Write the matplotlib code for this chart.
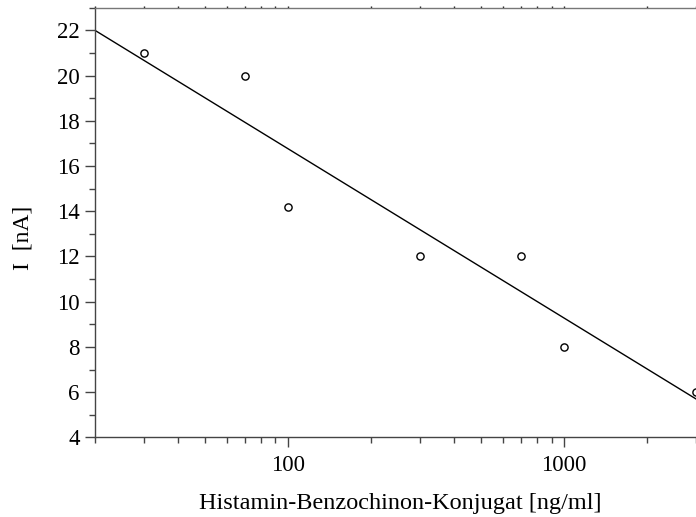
import matplotlib
matplotlib.use("Agg")
import matplotlib.pyplot as plt
from matplotlib.ticker import LogLocator, MultipleLocator, NullFormatter, FixedLocator

plt.rcParams['font.family'] = ['Liberation Serif', 'DejaVu Serif']

# Messwerte
konz = [30, 70, 100, 300, 700, 1000, 3000]
strom = [21.0, 20.0, 14.2, 12.0, 12.0, 8.0, 6.0]

# Ausgleichsgerade (Endpunkte)
fit_x = [20, 3000]
fit_y = [22.0, 5.7]

fig = plt.figure(figsize=(6.96, 5.17), dpi=100)
ax = fig.add_axes([0.1365, 0.154, 0.8635, 0.831])

ax.plot(fit_x, fit_y, color='black', lw=1.0)
ax.plot(konz, strom, 'o', mfc='white', mec='black', ms=5.2, mew=1.0, clip_on=False, zorder=3)

ax.set_xscale('log')
ax.set_xlim(20, 3000)
ax.set_ylim(4, 23)

ax.xaxis.set_major_locator(FixedLocator([100, 1000]))
ax.xaxis.set_major_formatter(plt.FuncFormatter(lambda v, p: '%d' % v))
ax.xaxis.set_minor_locator(LogLocator(base=10, subs=range(2, 10)))
ax.xaxis.set_minor_formatter(NullFormatter())
ax.yaxis.set_major_locator(MultipleLocator(2))
ax.yaxis.set_minor_locator(MultipleLocator(1))

spine_col = '#444444'
ax.spines['right'].set_visible(False)
for s in ['left', 'bottom', 'top']:
    ax.spines[s].set_color(spine_col)
    ax.spines[s].set_linewidth(1.0)
ax.spines['top'].set_color('#777777')

ax.tick_params(which='major', direction='out', length=7, width=1, color=spine_col, labelsize=16.5)
ax.tick_params(which='minor', direction='out', length=4, width=1, color=spine_col)
ax.tick_params(axis='x', which='major', pad=6)
ax.tick_params(axis='y', which='major', pad=4)

# kleine Striche oben
top = ax.secondary_xaxis('top')
top.xaxis.set_major_locator(FixedLocator([100, 1000]))
top.xaxis.set_minor_locator(LogLocator(base=10, subs=range(2, 10)))
top.xaxis.set_major_formatter(NullFormatter())
top.xaxis.set_minor_formatter(NullFormatter())
top.tick_params(which='both', direction='out', length=1.5, width=1, color='#222222')
top.spines['top'].set_visible(False)

ax.set_xlabel('Histamin-Benzochinon-Konjugat [ng/ml]', fontsize=17.5)
ax.xaxis.set_label_coords(0.5075, -0.13)
ax.set_ylabel('I  [nA]', fontsize=17)
ax.yaxis.set_label_coords(-0.103, 0.465)

fig.savefig('out.png', dpi=100)
